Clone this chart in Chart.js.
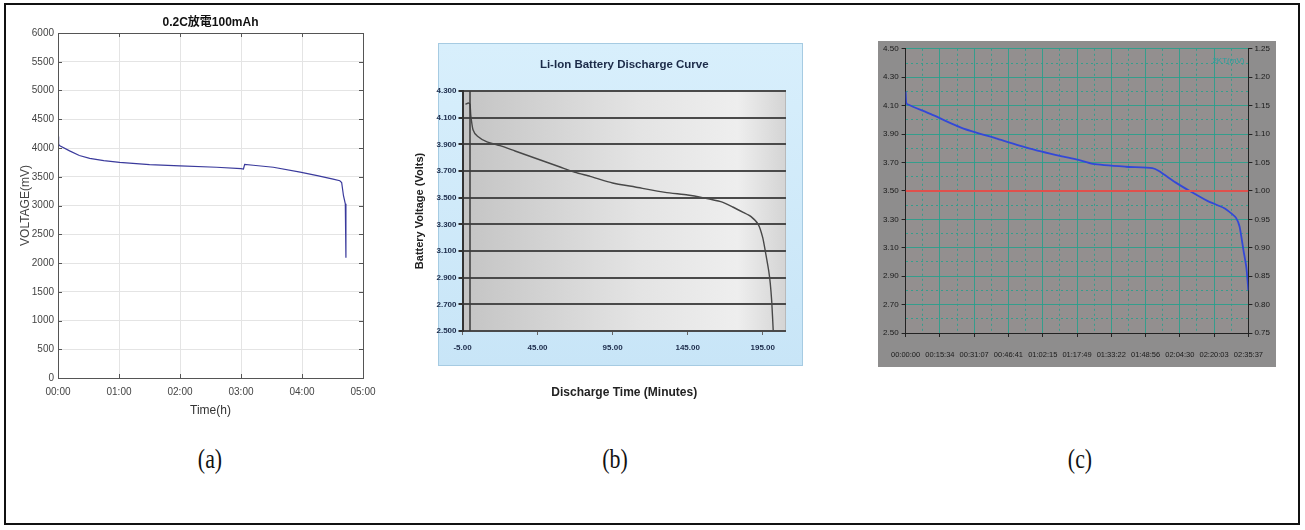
<!DOCTYPE html>
<html>
<head>
<meta charset="utf-8">
<script src="https://cdn.jsdelivr.net/npm/chart.js@4.4.1/dist/chart.umd.min.js"></script>
<style>
  html, body { margin: 0; padding: 0; background: #fff; width: 1305px; height: 530px; overflow: hidden; }
  #frame { position: absolute; left: 4px; top: 3px; width: 1296px; height: 522px; border: 2px solid #111; box-sizing: border-box; }
  canvas { position: absolute; }
  #boxB { position: absolute; left: 438px; top: 43px; width: 365px; height: 323px; box-sizing: border-box;
          background: linear-gradient(180deg, #d8effc, #c8e5f7); border: 1px solid #a6cbe2; }
  #boxC { position: absolute; left: 878px; top: 41px; width: 398px; height: 326px; background: #8e8d8d; }
  .lab { position: absolute; top: 443px; width: 60px; text-align: center; font-family: 'Liberation Serif', serif;
         font-size: 28px; color: #111; transform: scaleX(0.78); }
</style>
</head>
<body>
<div id="frame"></div>
<div id="boxB"></div>
<div id="boxC"></div>
<canvas id="cA" width="395" height="430" style="left:0;top:0"></canvas>
<canvas id="cB" width="430" height="372" style="left:405px;top:38px"></canvas>
<canvas id="cC" width="398" height="326" style="left:878px;top:41px"></canvas>
<div class="lab" style="left:180px">(a)</div>
<div class="lab" style="left:585px">(b)</div>
<div class="lab" style="left:1050px">(c)</div>
<script>
// (a) 0.2C discharge, time in hours, voltage in mV
const timeA = [0, 0.01, 0.03, 0.19, 0.35, 0.52, 0.75, 1.01, 1.5, 2.0, 2.6, 3.0, 3.04, 3.06, 3.2, 3.53, 3.97, 4.25, 4.51, 4.62, 4.65, 4.68, 4.71, 4.72];
const voltA = [4200, 4060, 4040, 3950, 3870, 3820, 3780, 3750, 3710, 3690, 3665, 3640, 3635, 3715, 3700, 3665, 3580, 3520, 3460, 3430, 3400, 3170, 3030, 2090];
const xTicksA = [0, 1, 2, 3, 4, 5];
const xLabelsA = ['00:00', '01:00', '02:00', '03:00', '04:00', '05:00'];

// (b) Li-Ion discharge, time in minutes, voltage in volts
const timeB = [-3, -1, 0, 0.5, 2, 5, 11, 20, 30, 45, 60, 70, 80, 95, 110, 130, 145, 155, 167, 175, 182, 187, 192, 195, 197, 199, 200, 201, 202];
const voltB = [4.20, 4.21, 4.20, 4.12, 4.01, 3.96, 3.92, 3.89, 3.85, 3.79, 3.73, 3.69, 3.66, 3.61, 3.58, 3.54, 3.52, 3.50, 3.47, 3.43, 3.39, 3.36, 3.30, 3.20, 3.08, 2.95, 2.86, 2.72, 2.50];
const xTicksB = [-5, 45, 95, 145, 195];
const yTicksB = [2.5, 2.7, 2.9, 3.1, 3.3, 3.5, 3.7, 3.9, 4.1, 4.3];
const axisLineXB = [0, 0];
const axisLineYB = [2.5, 4.3];

// (c) discharge, time in minutes, voltage in volts
const timeC = [0, 0.3, 0.8, 11.5, 26, 41, 56, 70.5, 78, 85, 100, 112, 115, 122.5, 130, 137, 144.5, 148, 150, 151.6, 153.4, 154.7, 155.6];
const voltC = [4.20, 4.12, 4.11, 4.04, 3.94, 3.87, 3.80, 3.745, 3.72, 3.69, 3.67, 3.66, 3.64, 3.56, 3.49, 3.43, 3.38, 3.34, 3.31, 3.25, 3.08, 2.96, 2.80];
const cutoffC = [3.5, 3.5];
const xLabelsC = ['00:00:00', '00:15:34', '00:31:07', '00:46:41', '01:02:15', '01:17:49', '01:33:22', '01:48:56', '02:04:30', '02:20:03', '02:35:37'];
const yTicksC = [2.5, 2.7, 2.9, 3.1, 3.3, 3.5, 3.7, 3.9, 4.1, 4.3, 4.5];
const y2TicksC = [0.75, 0.80, 0.85, 0.90, 0.95, 1.00, 1.05, 1.10, 1.15, 1.20, 1.25];

const sans = "'Liberation Sans', Arial, 'Noto Sans CJK TC', sans-serif";

function toMinutes(s) {
    const p = s.split(':').map(Number);
    return p[0] * 60 + p[1] + p[2] / 60;
}
const xTicksC = xLabelsC.map(toMinutes);

function midpoints(arr) {
    const out = [];
    for (let i = 0; i < arr.length - 1; i++) out.push((arr[i] + arr[i + 1]) / 2);
    return out;
}

function setTicks(values) {
    return scale => { scale.ticks = values.map(v => ({ value: v })); };
}

function points(xs, ys) {
    return xs.map((x, i) => ({ x: x, y: ys[i] }));
}

// matlab style box with inward ticks
const boxPlugin = {
    id: 'boxA',
    afterDraw(chart) {
        const { ctx, chartArea: a, scales } = chart;
        ctx.save();
        ctx.strokeStyle = '#555';
        ctx.lineWidth = 1;
        ctx.strokeRect(a.left + 0.5, a.top + 0.5, a.width, a.height);
        ctx.beginPath();
        scales.x.ticks.forEach(t => {
            const px = Math.round(scales.x.getPixelForValue(t.value)) + 0.5;
            ctx.moveTo(px, a.bottom); ctx.lineTo(px, a.bottom - 4);
            ctx.moveTo(px, a.top); ctx.lineTo(px, a.top + 4);
        });
        scales.y.ticks.forEach(t => {
            const py = Math.round(scales.y.getPixelForValue(t.value)) + 0.5;
            ctx.moveTo(a.left, py); ctx.lineTo(a.left + 4, py);
            ctx.moveTo(a.right, py); ctx.lineTo(a.right - 4, py);
        });
        ctx.stroke();
        ctx.restore();
    }
};

new Chart(document.getElementById('cA'), {
    type: 'line',
    data: {
        datasets: [{
            data: points(timeA, voltA),
            borderColor: '#3a3a9c',
            borderWidth: 1.2,
            pointRadius: 0,
            tension: 0
        }]
    },
    options: {
        responsive: false,
        animation: false,
        layout: { padding: { left: 14, right: 32, top: 8, bottom: 8 } },
        plugins: {
            legend: { display: false },
            tooltip: { enabled: false },
            title: {
                display: true,
                fullSize: false,
                text: '0.2C放電100mAh',
                color: '#111',
                font: { family: sans, size: 12, weight: 'bold' },
                padding: { top: 7, bottom: 3.6 }
            }
        },
        scales: {
            x: {
                type: 'linear', min: 0, max: 5,
                afterBuildTicks: setTicks(xTicksA),
                afterFit: s => { s.height = 44; },
                ticks: { callback: (v, i) => xLabelsA[i], color: '#444', font: { family: sans, size: 10 }, padding: 8, maxRotation: 0 },
                grid: { color: '#e4e4e4', drawTicks: false },
                border: { color: '#555' },
                title: { display: true, text: 'Time(h)', color: '#333', font: { family: sans, size: 12 }, padding: { top: 0, bottom: 4 } }
            },
            y: {
                min: 0, max: 6000,
                ticks: { stepSize: 500, callback: v => String(v), color: '#444', font: { family: sans, size: 10 }, padding: 4 },
                afterFit: s => { s.width = 44; },
                grid: { color: '#e4e4e4', drawTicks: false },
                border: { color: '#555' },
                title: { display: true, text: 'VOLTAGE(mV)', color: '#444', font: { family: sans, size: 12 }, padding: { top: 4, bottom: 0 } }
            }
        }
    },
    plugins: [boxPlugin]
});

// gray gradient behind the plot of (b)
const plotBgB = {
    id: 'plotBgB',
    beforeDraw(chart) {
        const { ctx, chartArea: a } = chart;
        const g = ctx.createLinearGradient(a.left, 0, a.right, 0);
        g.addColorStop(0, '#c4c4c4');
        g.addColorStop(0.55, '#e4e4e4');
        g.addColorStop(0.85, '#eeeeee');
        g.addColorStop(1, '#d4d4d4');
        ctx.save();
        ctx.fillStyle = g;
        ctx.fillRect(a.left, a.top, a.width, a.height);
        ctx.strokeStyle = '#b9b9b9';
        ctx.strokeRect(a.right - 0.5, a.top, 0, a.height);
        ctx.restore();
    }
};

new Chart(document.getElementById('cB'), {
    type: 'line',
    data: {
        datasets: [{
            data: points(axisLineXB, axisLineYB),
            borderColor: '#3c3c3c',
            borderWidth: 1.5,
            pointRadius: 0
        }, {
            data: points(timeB, voltB),
            borderColor: '#484848',
            borderWidth: 1.4,
            pointRadius: 0,
            tension: 0.2
        }]
    },
    options: {
        responsive: false,
        animation: false,
        layout: { padding: { left: 5, right: 49, top: 5, bottom: 5 } },
        plugins: {
            legend: { display: false },
            tooltip: { enabled: false },
            title: {
                display: true,
                fullSize: false,
                text: 'Li-Ion Battery Discharge Curve',
                color: '#1b2a48',
                font: { family: sans, size: 11.5, weight: 'bold' },
                padding: { top: 15.1, bottom: 19.1 }
            }
        },
        scales: {
            x: {
                type: 'linear', min: -5, max: 210.5,
                afterBuildTicks: setTicks(xTicksB),
                afterFit: s => { s.height = 74; },
                ticks: { callback: v => v.toFixed(2), color: '#1c2b4a', font: { family: sans, size: 8, weight: 'bold' }, padding: 8, maxRotation: 0 },
                grid: { drawOnChartArea: false, drawTicks: true, tickLength: 4, tickColor: '#666' },
                border: { display: false },
                title: { display: true, text: 'Discharge Time (Minutes)', color: '#222', font: { family: sans, size: 12, weight: 'bold' }, padding: { top: 0, bottom: 4.8 } }
            },
            y: {
                min: 2.5, max: 4.3,
                afterBuildTicks: setTicks(yTicksB),
                afterFit: s => { s.width = 52.5; },
                ticks: { callback: v => v.toFixed(3), color: '#1c2b4a', font: { family: sans, size: 8, weight: 'bold' }, padding: 2 },
                grid: { color: '#4a4a4a', lineWidth: 2, drawTicks: true, tickLength: 4, tickColor: '#333' },
                border: { color: '#333', width: 2 },
                title: { display: true, text: 'Battery Voltage (Volts)', color: '#222', font: { family: sans, size: 11, weight: 'bold' }, padding: { top: 3, bottom: 0 } }
            }
        }
    },
    plugins: [plotBgB]
});

const teal = 'rgba(38, 160, 140, 0.85)';

// plot fill and small legend text of (c)
const plotBgC = {
    id: 'plotBgC',
    beforeDraw(chart) {
        const { ctx, chartArea: a } = chart;
        ctx.save();
        ctx.fillStyle = '#938f8f';
        ctx.fillRect(a.left, a.top, a.width, a.height);
        ctx.restore();
    },
    afterDraw(chart) {
        const { ctx, chartArea: a } = chart;
        ctx.save();
        ctx.fillStyle = '#2aa0a0';
        ctx.font = "8px " + sans;
        ctx.textAlign = 'right';
        ctx.textBaseline = 'middle';
        ctx.fillText('2KT(mV)', a.right - 4, a.top + 12);
        ctx.restore();
    }
};

const tickFontC = { family: sans, size: 7.5 };
const yFontC = { family: sans, size: 8 };

new Chart(document.getElementById('cC'), {
    type: 'line',
    data: {
        datasets: [{
            data: points([xTicksC[0], xTicksC[xTicksC.length - 1]], cutoffC),
            borderColor: '#e0504c',
            borderWidth: 2,
            pointRadius: 0
        }, {
            data: points(timeC, voltC),
            borderColor: '#3348d8',
            borderWidth: 1.8,
            pointRadius: 0,
            tension: 0.2
        }]
    },
    options: {
        responsive: false,
        animation: false,
        layout: { padding: { left: 0, right: 0, top: 6, bottom: 0 } },
        plugins: { legend: { display: false }, tooltip: { enabled: false } },
        scales: {
            x: {
                type: 'linear', min: xTicksC[0], max: xTicksC[xTicksC.length - 1],
                afterBuildTicks: setTicks(xTicksC),
                afterFit: s => { s.height = 34; },
                ticks: { callback: (v, i) => xLabelsC[i], color: '#1a1a1a', font: tickFontC, padding: 13, maxRotation: 0, autoSkip: false },
                grid: { color: teal, lineWidth: 1, drawTicks: true, tickLength: 4, tickColor: '#222' },
                border: { color: '#222' }
            },
            xMinor: {
                type: 'linear', position: 'bottom', min: xTicksC[0], max: xTicksC[xTicksC.length - 1],
                afterBuildTicks: setTicks(midpoints(xTicksC)),
                afterFit: s => { s.height = 0; },
                ticks: { display: false },
                grid: { color: teal, drawTicks: false },
                border: { display: false, dash: [2, 3] }
            },
            y: {
                position: 'left', min: 2.5, max: 4.5,
                afterBuildTicks: setTicks(yTicksC),
                afterFit: s => { s.width = 23; },
                ticks: { callback: v => v.toFixed(2), color: '#1a1a1a', font: yFontC, padding: 3 },
                grid: { color: teal, lineWidth: 1, drawTicks: true, tickLength: 4, tickColor: '#222' },
                border: { color: '#222' }
            },
            yMinor: {
                position: 'left', min: 2.5, max: 4.5,
                afterBuildTicks: setTicks(midpoints(yTicksC)),
                afterFit: s => { s.width = 0; },
                ticks: { display: false },
                grid: { color: teal, drawTicks: false },
                border: { display: false, dash: [2, 3] }
            },
            y2: {
                position: 'right', min: 0.75, max: 1.25,
                afterBuildTicks: setTicks(y2TicksC),
                afterFit: s => { s.width = 24; },
                ticks: { callback: v => v.toFixed(2), color: '#1a1a1a', font: yFontC, padding: 2 },
                grid: { drawOnChartArea: false, drawTicks: true, tickLength: 4, tickColor: '#222' },
                border: { color: '#222' }
            }
        }
    },
    plugins: [plotBgC]
});
</script>
</body>
</html>
